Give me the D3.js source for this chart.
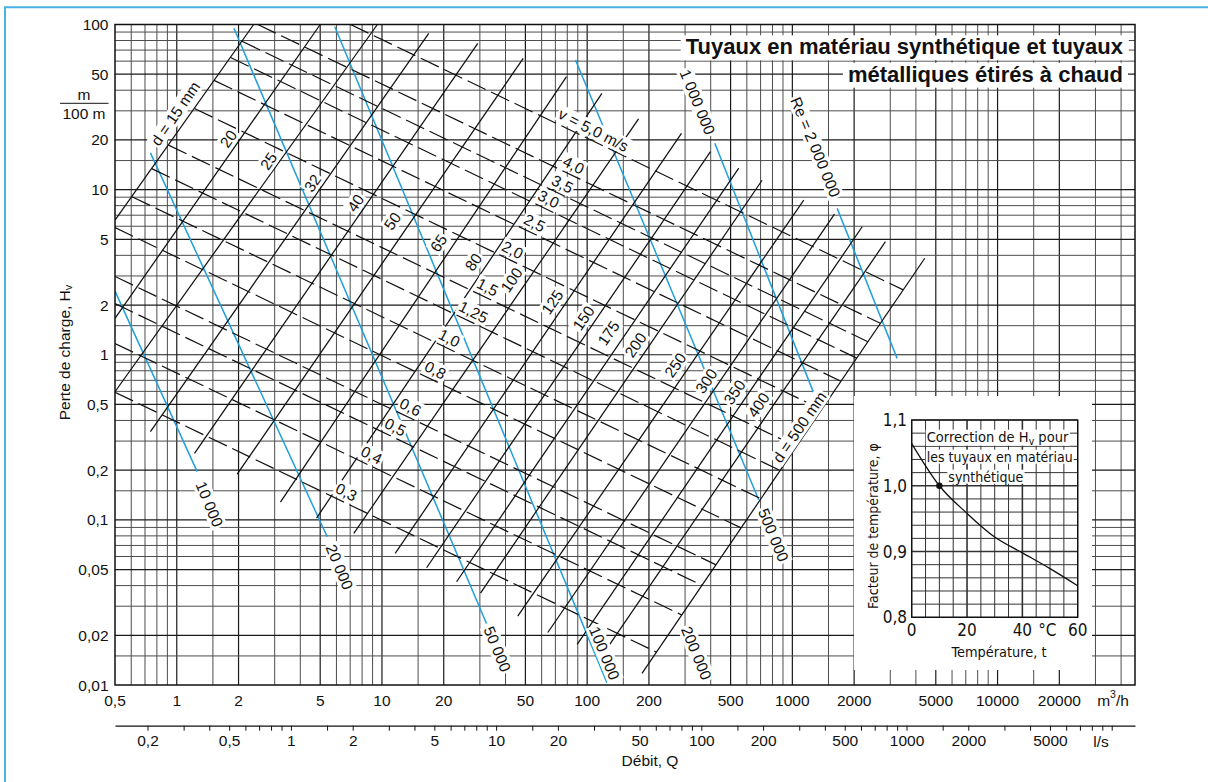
<!DOCTYPE html>
<html>
<head>
<meta charset="utf-8">
<script src="https://cdn.jsdelivr.net/npm/d3@7"></script>
<style>
  html, body { margin: 0; padding: 0; background: #fff; }
  svg { display: block; }
  text { font-family: "Liberation Sans", Arial, Helvetica, sans-serif; fill: #111; }
  .narrow { font-family: "Liberation Sans Narrow", "Arial Narrow", "DejaVu Sans Condensed", "Liberation Sans", sans-serif; font-stretch: condensed; }
</style>
</head>
<body>
<svg id="chart" width="1208" height="782"></svg>
<script>
// ---- Axis ticks -------------------------------------------------------
const flowTicks = [0.5, 1, 2, 5, 10, 20, 50, 100, 200, 500, 1000, 2000, 5000, 10000, 20000];
const flowTickLabels = ["0,5", "1", "2", "5", "10", "20", "50", "100", "200", "500", "1000", "2000", "5000", "10000", "20000"];
const headTicks = [100, 50, 20, 10, 5, 2, 1, 0.5, 0.2, 0.1, 0.05, 0.02, 0.01];
const headTickLabels = ["100", "50", "20", "10", "5", "2", "1", "0,5", "0,2", "0,1", "0,05", "0,02", "0,01"];
const litreTicks = [0.2, 0.3, 0.4, 0.5, 0.6, 0.7, 0.8, 0.9, 1, 1.5, 2, 3, 4, 5, 6, 7, 8, 9, 10, 15, 20, 30, 40, 50, 60, 70, 80, 90,
  100, 150, 200, 300, 400, 500, 600, 700, 800, 900, 1000, 1500, 2000, 3000, 4000, 5000, 6000, 7000, 8000, 9000, 10000];
const litreLabelled = [0.2, 0.5, 1, 2, 5, 10, 20, 50, 100, 200, 500, 1000, 2000, 5000];
const litreLabels = ["0,2", "0,5", "1", "2", "5", "10", "20", "50", "100", "200", "500", "1000", "2000", "5000"];
const gridMantissa = [1, 1.5, 2, 3, 4, 5, 6, 7, 8, 9];
const majorMantissa = [1, 2, 5];

// ---- Pipe diameter lines (Q m3/h, Hv m/100 m) ------------------------
const diameterNames = ["d = 15 mm", "20", "25", "32", "40", "50", "65", "80", "100", "125", "150", "175", "200", "250", "300", "350", "400", "d = 500 mm"];
const diameterStart = [[0.5, 6.54], [0.5, 1.66], [0.5, 0.597], [0.744, 0.342], [1.22, 0.253], [1.97, 0.189], [3.2, 0.128], [4.8, 0.1025],
  [7.29, 0.0828], [11.6, 0.0627], [16.5, 0.0513], [23.1, 0.0422], [30.2, 0.036], [45.9, 0.0261], [64.3, 0.0208], [89.4, 0.0176], [117, 0.0148], [185, 0.01176]];
const diameterEnd = [[2.37, 100], [5.0, 100], [9.5, 100], [16.9, 88.4], [29.3, 76.9], [48.8, 62.4], [79.3, 48.3], [118, 38.3],
  [178, 26.8], [288, 21.9], [399, 17.0], [548, 13.5], [712, 11.4], [1136, 8.65], [1604, 7.11], [2189, 5.96], [2842, 4.84], [4418, 3.84]];
const diameterLabelAt = [[0.985, 28.9], [1.786, 20.3], [2.8, 14.9], [4.59, 10.96], [7.43, 8.29], [11.25, 6.45], [18.86, 4.75], [27.9, 3.64],
  [42.8, 2.835], [67.7, 2.085], [95.9, 1.668], [127, 1.353], [172, 1.145], [269, 0.866], [381, 0.693], [522, 0.594], [684, 0.496], [1083, 0.365]];

// ---- Flow velocity lines ---------------------------------------------
const velocityNames = ["v = 5,0 m/s", "4,0", "3,5", "3,0", "2,5", "2,0", "1,5", "1,25", "1,0", "0,8", "0,6", "0,5", "0,4", "0,3"];
const velocityStart = [[7.02, 100], [2.48, 100], [2.08, 79.1], [1.83, 63.1], [1.52, 45.9], [1.22, 31.0], [0.911, 18.6], [0.755, 13.4],
  [0.605, 9.06], [0.5, 5.89], [0.5, 2.98], [0.5, 2.04], [0.5, 1.17], [0.5, 0.593]];
const velocityEnd = [[3471, 2.47], [2684, 1.55], [2333, 1.20], [2060, 0.954], [1725, 0.691], [1389, 0.466], [1048, 0.278], [873, 0.199],
  [704, 0.134], [563, 0.0894], [425, 0.0534], [363, 0.0401], [290, 0.0265], [218, 0.0158]];
const velocityLabelAt = [[107.3, 22.96], [85.8, 14.09], [75.8, 10.81], [64.8, 8.77], [55.4, 6.28], [43.3, 4.31], [32.7, 2.57], [27.9, 1.814],
  [21.3, 1.262], [18.2, 0.808], [13.77, 0.482], [11.63, 0.365], [8.89, 0.247], [6.71, 0.1474]];

// ---- Reynolds number lines (the 200 000 line carries only its label) --
const reynoldsNames = ["10 000", "20 000", "50 000", "100 000", "200 000", "500 000", "1 000 000", "Re = 2 000 000"];
const reynoldsStart = [[0.5, 2.43], [0.744, 16.7], [1.90, 94.8], [5.89, 97], null, [87.7, 61], [419, 19.1], [1653, 7.7]];
const reynoldsEnd = [[1.257, 0.196], [5.41, 0.079], [32.3, 0.0236], [125, 0.0103], null, [686, 0.132], [1371, 0.462], [3241, 0.951]];
const reynoldsLabelAt = [[1.443, 0.1246], [6.21, 0.0518], [36.5, 0.0165], [121.4, 0.0156], [341, 0.0156], [809, 0.0809], [345, 33.9], [1296, 18.1]];

// ---- Temperature correction inset ------------------------------------
const tempC = [0, 10, 20, 30, 40, 50, 60];
const tempFactor = [1.064, 1.0, 0.958, 0.922, 0.898, 0.874, 0.848];
const tempTicks = [0, 20, 40, 60];
const factorTicks = [0.8, 0.9, 1.0, 1.1];
const factorTickLabels = ["0,8", "0,9", "1,0", "1,1"];

// ======================================================================
const W = 1208, H = 782;
const plot = { left: 115, right: 1135, top: 24.5, bottom: 685 };
const qMax = 46750;
const frameBlue = "#45b3e6";
const reBlue = "#1f9fdc";

const x = d3.scaleLog().domain([0.5, qMax]).range([plot.left, plot.right]);
const y = d3.scaleLog().domain([0.01, 100]).range([plot.bottom, plot.top]);
const xLs = d3.scaleLog().domain([0.5 / 3.6, qMax / 3.6]).range([plot.left, plot.right]);

const svg = d3.select("#chart");

// outer frame
svg.append("path").attr("d", `M5,${H} V7.3 H${W}`)
  .attr("fill", "none").attr("stroke", frameBlue).attr("stroke-width", 2);

// grid: 1-2-5 lines heavier than the intermediate ones
const clean = v => +v.toPrecision(3);
const gridOf = (decades, lo, hi) => decades.flatMap(d => gridMantissa.map(m => ({ v: clean(d * m), major: majorMantissa.includes(m) })))
  .filter(g => g.v > lo && g.v < hi);
const qGrid = gridOf([0.1, 1, 10, 100, 1000, 10000], 0.5, qMax);
const hGrid = gridOf([0.01, 0.1, 1, 10], 0.01, 100);
const grid = svg.append("g");
grid.selectAll("line.v").data(qGrid).join("line").attr("class", "v")
  .attr("x1", d => x(d.v)).attr("x2", d => x(d.v)).attr("y1", plot.top).attr("y2", plot.bottom)
  .attr("stroke", d => d.major ? "#1a1a1a" : "#4d4d4d").attr("stroke-width", d => d.major ? 1.2 : 1);
grid.selectAll("line.h").data(hGrid).join("line").attr("class", "h")
  .attr("y1", d => y(d.v)).attr("y2", d => y(d.v)).attr("x1", plot.left).attr("x2", plot.right)
  .attr("stroke", d => d.major ? "#1a1a1a" : "#4d4d4d").attr("stroke-width", d => d.major ? 1.2 : 1);

// clip
svg.append("clipPath").attr("id", "plotClip").append("rect")
  .attr("x", plot.left).attr("y", plot.top).attr("width", plot.right - plot.left).attr("height", plot.bottom - plot.top);
const lines = svg.append("g").attr("clip-path", "url(#plotClip)");
const seg = d3.line().x(d => x(d[0])).y(d => y(d[1]));

// Reynolds lines
lines.append("g").selectAll("path").data(reynoldsStart.map((s, i) => s ? [s, reynoldsEnd[i]] : null).filter(Boolean))
  .join("path").attr("d", seg).attr("fill", "none").attr("stroke", reBlue).attr("stroke-width", 1.5);

// velocity lines
lines.append("g").selectAll("path").data(velocityStart.map((s, i) => [s, velocityEnd[i]]))
  .join("path").attr("d", seg).attr("fill", "none").attr("stroke", "#111").attr("stroke-width", 1.2)
  .attr("stroke-dasharray", "20,6");

// diameter lines
lines.append("g").selectAll("path").data(diameterStart.map((s, i) => [s, diameterEnd[i]]))
  .join("path").attr("d", seg).attr("fill", "none").attr("stroke", "#111").attr("stroke-width", 1.25);

// plot border
svg.append("rect").attr("x", plot.left).attr("y", plot.top).attr("width", plot.right - plot.left).attr("height", plot.bottom - plot.top)
  .attr("fill", "none").attr("stroke", "#111").attr("stroke-width", 1.5);

// label with white knock-out
function placeLabel(parent, px, py, angle, size, build, pad = 1.5, cls) {
  const g = parent.append("g").attr("transform", `translate(${px},${py}) rotate(${angle})`);
  const bg = g.append("rect").attr("fill", "#fff");
  const t = g.append("text").attr("text-anchor", "middle").attr("dominant-baseline", "central")
    .style("font-size", size + "px");
  if (cls) t.attr("class", cls);
  build(t);
  const b = t.node().getBBox();
  bg.attr("x", b.x - pad).attr("y", b.y + 1.5 - pad).attr("width", b.width + 2 * pad).attr("height", b.height - 3 + 2 * pad);
  return t;
}

const labels = svg.append("g");
diameterNames.forEach((n, i) => {
  const p = diameterLabelAt[i];
  placeLabel(labels, x(p[0]), y(p[1]), -55.5, 15.5, t => t.text(n));
});
velocityNames.forEach((n, i) => {
  const p = velocityLabelAt[i];
  placeLabel(labels, x(p[0]), y(p[1]), 27, 15.5, t => t.text(n));
});
reynoldsNames.forEach((n, i) => {
  const p = reynoldsLabelAt[i];
  placeLabel(labels, x(p[0]), y(p[1]), 67.5, 15.5, t => t.text(n));
});

// title block
const titleLines = [["Tuyaux en matériau synthétique et tuyaux", 54.3], ["métalliques étirés à chaud", 81.7]];
titleLines.forEach(([txt, by]) => {
  const bg = svg.append("rect").attr("fill", "#fff");
  const t = svg.append("text").attr("x", 1123).attr("y", by).attr("text-anchor", "end")
    .style("font-size", "22px").style("font-weight", "bold").text(txt);
  const b = t.node().getBBox();
  bg.attr("x", b.x - 5).attr("y", b.y + 1).attr("width", b.width + 10).attr("height", b.height);
});

// y tick labels
svg.append("g").selectAll("text").data(headTicks).join("text")
  .attr("x", 108.5).attr("y", d => y(d)).attr("text-anchor", "end").attr("dominant-baseline", "central")
  .style("font-size", "15.5px").text((d, i) => headTickLabels[i]);

// unit fraction m / 100 m
svg.append("text").attr("x", 84).attr("y", 94.3).attr("text-anchor", "middle").attr("dominant-baseline", "central")
  .style("font-size", "15.5px").text("m");
svg.append("line").attr("x1", 60).attr("x2", 108.5).attr("y1", 103.3).attr("y2", 103.3).attr("stroke", "#111").attr("stroke-width", 1);
svg.append("text").attr("x", 84).attr("y", 113.5).attr("text-anchor", "middle").attr("dominant-baseline", "central")
  .style("font-size", "15.5px").text("100 m");

// y axis title
const yTitle = svg.append("text").attr("transform", "translate(63.5,352.5) rotate(-90)").attr("text-anchor", "middle")
  .attr("dominant-baseline", "central").style("font-size", "15.5px");
yTitle.append("tspan").text("Perte de charge, H");
yTitle.append("tspan").attr("dy", 4).style("font-size", "11px").text("v");

// x tick labels (m3/h)
svg.append("g").selectAll("text").data(flowTicks).join("text")
  .attr("x", d => x(d)).attr("y", 700).attr("text-anchor", "middle").attr("dominant-baseline", "central")
  .style("font-size", "15.5px").text((d, i) => flowTickLabels[i]);
const unitQ = svg.append("text").attr("x", 1113).attr("y", 700).attr("text-anchor", "middle")
  .attr("dominant-baseline", "central").style("font-size", "15.5px");
unitQ.append("tspan").text("m");
unitQ.append("tspan").attr("dy", -6).style("font-size", "10.5px").text("3");
unitQ.append("tspan").attr("dy", 6).text("/h");

// l/s axis
const lsAxis = d3.axisBottom(xLs).tickValues(litreTicks).tickSize(5).tickSizeOuter(0).tickPadding(4)
  .tickFormat(v => { const k = litreLabelled.indexOf(v); return k >= 0 ? litreLabels[k] : ""; });
const lsG = svg.append("g").attr("transform", "translate(0,725.7)").call(lsAxis);
lsG.select(".domain").attr("stroke", "#111").attr("stroke-width", 1.3);
lsG.selectAll(".tick line").attr("stroke", "#111").attr("stroke-width", 1);
lsG.selectAll(".tick text").attr("fill", "#111").style("font-size", "15.5px")
  .style("font-family", "'Liberation Sans', Arial, sans-serif");
svg.append("text").attr("x", 1101).attr("y", 741.5).attr("text-anchor", "middle").attr("dominant-baseline", "central")
  .style("font-size", "15.5px").text("l/s");
svg.append("text").attr("x", 650).attr("y", 760).attr("text-anchor", "middle").attr("dominant-baseline", "central")
  .style("font-size", "15.5px").text("Débit, Q");

// ---- inset ------------------------------------------------------------
const inset = { left: 911.7, right: 1077.7, top: 420, bottom: 617.3 };
svg.append("rect").attr("x", 854).attr("y", 396).attr("width", 238).attr("height", 274).attr("fill", "#fff");
const tx = d3.scaleLinear().domain([0, 60]).range([inset.left, inset.right]);
const ty = d3.scaleLinear().domain([0.8, 1.1]).range([inset.bottom, inset.top]);
const ig = svg.append("g");
const tGrid = d3.range(0, 61, 5);
const fGrid = d3.range(0, 16).map(i => clean(0.8 + i * 0.02));
ig.selectAll("line.tv").data(tGrid).join("line").attr("class", "tv")
  .attr("x1", d => tx(d)).attr("x2", d => tx(d)).attr("y1", inset.top).attr("y2", inset.bottom)
  .attr("stroke", "#333").attr("stroke-width", d => (d === 20 || d === 40) ? 1.6 : 1);
ig.selectAll("line.fh").data(fGrid).join("line").attr("class", "fh")
  .attr("y1", d => ty(d)).attr("y2", d => ty(d)).attr("x1", inset.left).attr("x2", inset.right)
  .attr("stroke", "#333").attr("stroke-width", d => (d === 0.9 || d === 1) ? 1.6 : 1);

// size a narrow text so that its natural width matches the wanted width
function fitWidth(t, width, base) {
  t.style("font-size", base + "px");
  const len = t.node().getComputedTextLength();
  t.style("font-size", (base * width / len).toFixed(2) + "px");
}

// caption: the subscript line is built from one text with tspans
{
  const bg = ig.append("rect").attr("fill", "#fff");
  const t = ig.append("text").attr("class", "narrow").attr("x", 997.5).attr("y", 436.7)
    .attr("text-anchor", "middle").attr("dominant-baseline", "central");
  t.append("tspan").text("Correction de H");
  t.append("tspan").attr("dy", 4).style("font-size", "72%").text("v");
  t.append("tspan").attr("dy", -4).text(" pour");
  fitWidth(t, 141.7, 16);
  const b = t.node().getBBox();
  bg.attr("x", b.x - 1).attr("y", b.y + 1).attr("width", b.width + 2).attr("height", b.height - 2);
}
[["les tuyaux en matériau", 999.7, 456.7, 146], ["synthétique", 985.8, 476.7, 75]].forEach(([str, cx, cy, len]) => {
  const bg = ig.append("rect").attr("fill", "#fff");
  const t = ig.append("text").attr("class", "narrow").attr("x", cx).attr("y", cy)
    .attr("text-anchor", "middle").attr("dominant-baseline", "central").text(str);
  fitWidth(t, len, 16);
  const b = t.node().getBBox();
  bg.attr("x", b.x - 1).attr("y", b.y + 1).attr("width", b.width + 2).attr("height", b.height - 2);
});

ig.append("rect").attr("x", inset.left).attr("y", inset.top).attr("width", inset.right - inset.left).attr("height", inset.bottom - inset.top)
  .attr("fill", "none").attr("stroke", "#111").attr("stroke-width", 1.4);
ig.append("path").datum(tempC.map((t, i) => [t, tempFactor[i]]))
  .attr("d", d3.line().x(d => tx(d[0])).y(d => ty(d[1])).curve(d3.curveMonotoneX))
  .attr("fill", "none").attr("stroke", "#111").attr("stroke-width", 1.3);
ig.append("circle").attr("cx", tx(10)).attr("cy", ty(1.0)).attr("r", 3.2).attr("fill", "#111");

ig.selectAll("text.tt").data(tempTicks).join("text").attr("class", "tt narrow")
  .attr("x", d => tx(d)).attr("y", 630).attr("text-anchor", "middle").attr("dominant-baseline", "central")
  .style("font-size", "17px").text(d => d);
ig.append("text").attr("class", "narrow").attr("x", 1047.3).attr("y", 630).attr("text-anchor", "middle")
  .attr("dominant-baseline", "central").style("font-size", "17px").text("°C");
ig.selectAll("text.ft").data(factorTicks).join("text").attr("class", "ft narrow")
  .attr("x", 907).attr("y", d => ty(d)).attr("text-anchor", "end").attr("dominant-baseline", "central")
  .style("font-size", "17px").text((d, i) => factorTickLabels[i]);
fitWidth(ig.append("text").attr("class", "narrow").attr("x", 999).attr("y", 651.7).attr("text-anchor", "middle")
  .attr("dominant-baseline", "central").text("Température, t"), 95, 16.5);
fitWidth(ig.append("text").attr("class", "narrow").attr("transform", "translate(873,526) rotate(-90)").attr("text-anchor", "middle")
  .attr("dominant-baseline", "central").text("Facteur de température, φ"), 166, 16.5);
</script>
</body>
</html>
